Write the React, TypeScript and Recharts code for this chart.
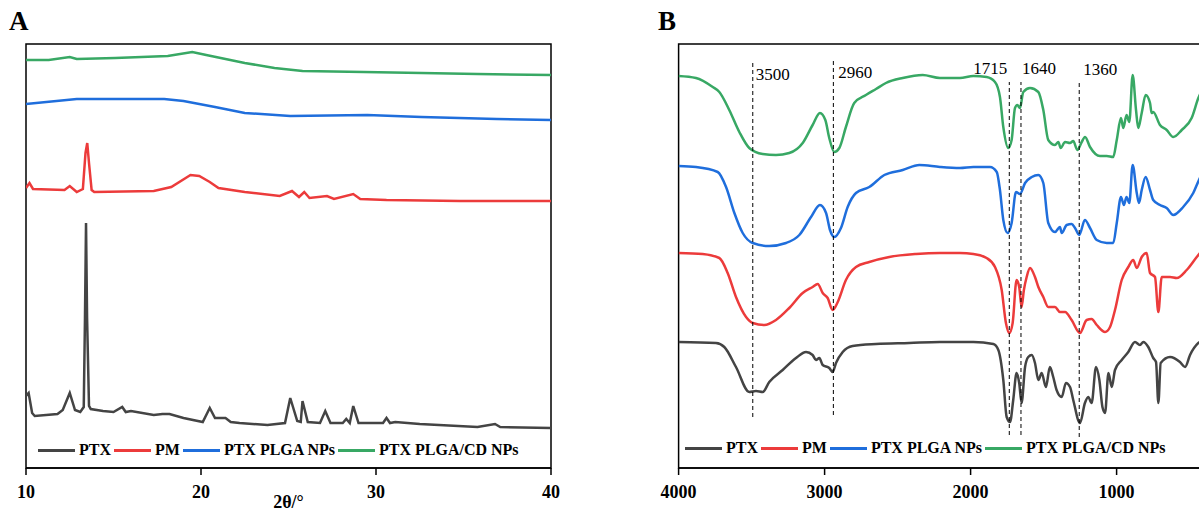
import React from 'react';
import { LineChart, Line, XAxis, YAxis, ReferenceArea, ReferenceLine, ReferenceDot, Legend } from 'recharts';

const FONT = "'Liberation Serif', 'Times New Roman', Times, serif";

// ---------- Panel A: XRD (2θ, relative intensity) ----------
const xrdTicks = [10, 20, 30, 40];

const xrdPTX: [number, number][] = [
  [10.0, 72], [10.15, 75], [10.35, 55], [10.5, 52], [11.8, 54], [12.1, 58], [12.5, 75], [12.8, 58],
  [13.1, 56], [13.3, 61], [13.37, 150], [13.43, 245], [13.49, 150], [13.6, 62], [13.7, 59], [14.4, 57],
  [15.0, 56], [15.5, 61], [15.7, 56], [16.0, 57], [17.3, 53], [17.8, 54], [18.2, 54], [19.0, 50],
  [20.1, 46], [20.5, 60], [20.8, 50], [21.4, 50], [21.7, 46], [22.2, 45], [23.8, 43], [24.8, 45],
  [25.1, 70], [25.5, 47], [25.7, 46], [25.8, 67], [26.1, 46], [26.8, 45], [27.1, 57], [27.4, 45],
  [28.1, 45], [28.3, 49], [28.5, 45], [28.7, 62], [29.0, 45], [30.4, 45], [30.6, 50], [30.8, 45],
  [31.1, 46], [32.5, 44], [33.6, 43], [35.8, 41], [36.8, 44], [37.1, 41], [40.0, 40],
];

const xrdPM: [number, number][] = [
  [10.0, 280], [10.2, 285], [10.4, 279], [12.2, 278], [12.5, 282], [12.9, 276], [13.25, 279],
  [13.4, 315], [13.5, 325], [13.6, 305], [13.75, 278], [13.9, 276], [17.3, 277], [18.3, 281],
  [19.4, 293], [19.9, 292], [20.5, 286], [21.0, 280], [22.5, 276], [24.5, 272], [25.2, 277],
  [25.6, 271], [25.9, 276], [26.2, 270], [27.2, 272], [27.6, 269], [28.7, 274], [29.1, 269],
  [30.6, 268], [34.8, 267], [40.0, 267],
];

const xrdPLGA: [number, number][] = [
  [10.0, 364], [12.9, 369], [14.2, 369], [17.9, 369], [19.0, 367], [20.8, 361], [22.5, 355],
  [25.1, 352], [29.5, 353], [32.6, 351], [36.9, 349], [40.0, 348],
];

const xrdPLGACD: [number, number][] = [
  [10.0, 408], [11.3, 408], [12.5, 411], [12.9, 409], [15.1, 410], [18.1, 412], [19.5, 416],
  [20.3, 413], [22.5, 405], [24.2, 400], [25.8, 397], [29.3, 396], [32.6, 395], [35.8, 394], [40.0, 393],
];

// ---------- Panel B: FTIR (wavenumber cm-1, transmittance offset) ----------
const ftirTicks = [4000, 3000, 2000, 1000];

const ftirPTX: [number, number][] = [
  [4000, 126], [3744, 125], [3687, 121], [3607, 101], [3516, 76], [3470, 77], [3424, 76], [3379, 86],
  [3287, 98], [3196, 110], [3127, 116], [3082, 113], [3059, 108], [3036, 110], [3013, 103], [2968, 100],
  [2945, 96], [2922, 105], [2876, 116], [2808, 122], [2648, 124], [2420, 125], [2210, 126], [1981, 126],
  [1844, 124], [1810, 118], [1776, 88], [1753, 51], [1730, 46], [1708, 68], [1685, 95], [1667, 85],
  [1651, 65], [1627, 101], [1605, 111], [1581, 113], [1559, 105], [1536, 88], [1513, 95], [1484, 81],
  [1457, 101], [1434, 91], [1411, 78], [1376, 71], [1347, 85], [1319, 81], [1297, 68], [1251, 45],
  [1217, 65], [1194, 71], [1171, 65], [1141, 101], [1118, 88], [1097, 61], [1079, 55], [1056, 95],
  [1033, 81], [1011, 98], [965, 108], [920, 116], [874, 126], [840, 123], [817, 126], [783, 121],
  [749, 110], [730, 106], [714, 65], [698, 105], [634, 111], [566, 106], [531, 101], [497, 113],
  [440, 125], [400, 128],
];

const ftirPM: [number, number][] = [
  [4000, 215], [3835, 214], [3721, 210], [3664, 195], [3607, 171], [3538, 151], [3492, 145], [3413, 143],
  [3333, 148], [3242, 160], [3150, 175], [3082, 181], [3047, 184], [3013, 175], [2979, 170], [2945, 158],
  [2910, 166], [2854, 188], [2785, 201], [2694, 206], [2557, 211], [2374, 214], [2210, 215], [2073, 215],
  [1981, 214], [1890, 210], [1833, 201], [1787, 178], [1758, 145], [1735, 135], [1712, 145], [1685, 188],
  [1667, 181], [1651, 161], [1635, 178], [1616, 191], [1593, 200], [1559, 191], [1536, 181], [1502, 171],
  [1468, 161], [1422, 161], [1388, 156], [1353, 156], [1308, 148], [1251, 135], [1205, 148], [1171, 149],
  [1136, 143], [1079, 136], [1045, 141], [1011, 158], [965, 188], [920, 201], [886, 208], [862, 200],
  [828, 211], [794, 215], [771, 195], [737, 191], [714, 156], [691, 191], [634, 191], [588, 190],
  [520, 198], [451, 211], [400, 220],
];

const ftirPLGA: [number, number][] = [
  [4000, 302], [3881, 301], [3732, 296], [3675, 281], [3618, 255], [3561, 235], [3492, 225], [3379, 222],
  [3264, 225], [3173, 233], [3093, 251], [3032, 263], [2990, 255], [2963, 238], [2934, 231], [2888, 240],
  [2842, 261], [2785, 275], [2694, 281], [2591, 293], [2465, 298], [2351, 303], [2210, 301], [2073, 300],
  [1981, 301], [1867, 301], [1821, 296], [1799, 278], [1776, 248], [1746, 235], [1719, 245], [1689, 276],
  [1662, 274], [1627, 285], [1581, 291], [1536, 293], [1502, 285], [1468, 245], [1422, 236], [1388, 241],
  [1376, 235], [1342, 243], [1308, 244], [1285, 240], [1256, 233], [1217, 248], [1182, 240], [1136, 228],
  [1068, 225], [1023, 225], [999, 245], [970, 271], [950, 263], [932, 271], [913, 265], [890, 303],
  [862, 275], [847, 265], [828, 278], [801, 291], [771, 278], [749, 268], [703, 263], [657, 260],
  [612, 253], [544, 261], [475, 275], [436, 288], [400, 298],
];

const ftirPLGACD: [number, number][] = [
  [4000, 392], [3881, 390], [3766, 381], [3721, 376], [3653, 358], [3584, 336], [3516, 320], [3424, 314],
  [3333, 313], [3242, 315], [3150, 325], [3082, 343], [3032, 355], [2995, 348], [2968, 330], [2934, 316],
  [2899, 320], [2854, 341], [2797, 365], [2717, 373], [2648, 379], [2580, 385], [2465, 390], [2328, 393],
  [2210, 390], [2073, 390], [1981, 392], [1890, 391], [1833, 386], [1799, 371], [1776, 341], [1742, 320],
  [1719, 328], [1696, 360], [1680, 363], [1662, 360], [1639, 376], [1593, 380], [1536, 376], [1502, 358],
  [1468, 328], [1422, 323], [1399, 326], [1383, 320], [1353, 326], [1319, 325], [1297, 327], [1269, 318],
  [1239, 326], [1216, 331], [1182, 321], [1114, 312], [1068, 312], [1023, 311], [999, 328], [970, 350],
  [954, 340], [932, 353], [913, 346], [890, 393], [867, 358], [852, 340], [828, 355], [801, 373],
  [771, 365], [760, 355], [749, 356], [703, 343], [657, 338], [612, 331], [554, 338], [486, 350],
  [440, 370], [400, 382],
];

// Marked bands: position of the dashed guide and its printed label
const bandPositions = [3492, 2940, 1735, 1655, 1256];
const bandLabels = ['3500', '2960', '1715', '1640', '1360'];

const seriesNames = ['PTX', 'PM', 'PTX PLGA NPs', 'PTX PLGA/CD NPs'];
const seriesColors = ['#444444', '#ec3b3b', '#1f6edc', '#38a864'];

// ---------- layout / styling ----------
const W = 600;
const H = 513;
const Y_MAX = 424;
const bandStyle = [
  { top: 405, bottom: 51, labelY: 388, dx: 3, anchor: 'start' },
  { top: 407, bottom: 53, labelY: 390, dx: 5, anchor: 'start' },
  { top: 386, bottom: 33, labelY: 394, dx: -2, anchor: 'end' },
  { top: 386, bottom: 33, labelY: 394, dx: 1, anchor: 'start' },
  { top: 385, bottom: 31, labelY: 393, dx: 4, anchor: 'start' },
];

const toPts = (arr: [number, number][]) => arr.map(([x, y]) => ({ x, y }));

const renderLegend = () => (
  <div
    style={{
      display: 'flex',
      alignItems: 'center',
      fontFamily: FONT,
      fontWeight: 'bold',
      fontSize: 16,
      color: '#000',
      whiteSpace: 'nowrap',
      lineHeight: '18px',
    }}
  >
    {seriesNames.map((n, i) => (
      <React.Fragment key={n}>
        <span
          style={{
            display: 'inline-block',
            width: 37,
            height: 3,
            background: seriesColors[i],
            marginLeft: i ? 3 : 0,
            marginRight: 4,
          }}
        />
        <span>{n}</span>
      </React.Fragment>
    ))}
  </div>
);

const tickStyle = { fontSize: 18, fontWeight: 'bold', fill: '#000', fontFamily: FONT };
const axisLineStyle = { stroke: '#000', strokeWidth: 1.5 };

export default function App() {
  const xrdSeries = [xrdPTX, xrdPM, xrdPLGA, xrdPLGACD];
  const ftirSeries = [ftirPTX, ftirPM, ftirPLGA, ftirPLGACD];
  return (
    <div
      style={{
        position: 'absolute',
        left: 0,
        top: 0,
        width: 1199,
        height: 513,
        overflow: 'hidden',
        background: '#fff',
        fontFamily: FONT,
      }}
    >
      <div style={{ position: 'absolute', left: 9, top: 6, fontSize: 27, fontWeight: 'bold', lineHeight: '30px' }}>A</div>
      <div style={{ position: 'absolute', left: 658, top: 6, fontSize: 27, fontWeight: 'bold', lineHeight: '30px' }}>B</div>

      {/* Panel A */}
      <div style={{ position: 'absolute', left: 0, top: 0 }}>
        <LineChart width={W} height={H} margin={{ top: 44, left: 26, right: 49, bottom: 15 }}>
          <XAxis
            type="number"
            dataKey="x"
            domain={[10, 40]}
            ticks={xrdTicks}
            allowDataOverflow
            height={30}
            tickSize={7}
            tickMargin={10}
            tick={tickStyle}
            tickLine={axisLineStyle}
            axisLine={axisLineStyle}
            label={{ value: '2θ/°', position: 'bottom', offset: -3, fontSize: 18, fontWeight: 'bold', fill: '#000', fontFamily: FONT }}
          />
          <YAxis type="number" hide domain={[0, Y_MAX]} allowDataOverflow />
          <ReferenceArea x1={10} x2={40} y1={0} y2={Y_MAX} fill="none" stroke="#000" strokeWidth={1.5} ifOverflow="visible" />
          {xrdSeries.map((s, i) => (
            <Line
              key={seriesNames[i]}
              data={toPts(s)}
              dataKey="y"
              name={seriesNames[i]}
              type="linear"
              stroke={seriesColors[i]}
              strokeWidth={2.5}
              dot={false}
              isAnimationActive={false}
            />
          ))}
          <Legend
            content={renderLegend}
            layout="horizontal"
            verticalAlign="middle"
            align="center"
            wrapperStyle={{ left: 38, top: 441, width: 'auto' }}
          />
        </LineChart>
      </div>

      {/* Panel B */}
      <div style={{ position: 'absolute', left: 640, top: 0 }}>
        <LineChart width={W} height={H} margin={{ top: 44, left: 38.6, right: 35.8, bottom: 15 }}>
          <XAxis
            type="number"
            dataKey="x"
            domain={[400, 4000]}
            reversed
            ticks={ftirTicks}
            allowDataOverflow
            height={30}
            tickSize={7}
            tickMargin={10}
            tick={tickStyle}
            tickLine={axisLineStyle}
            axisLine={axisLineStyle}
          />
          <YAxis type="number" hide domain={[0, Y_MAX]} allowDataOverflow />
          <ReferenceArea x1={4000} x2={400} y1={0} y2={Y_MAX} fill="none" stroke="#000" strokeWidth={1.5} ifOverflow="visible" />
          {ftirSeries.map((s, i) => (
            <Line
              key={seriesNames[i]}
              data={toPts(s)}
              dataKey="y"
              name={seriesNames[i]}
              type="monotone"
              stroke={seriesColors[i]}
              strokeWidth={2.5}
              dot={false}
              isAnimationActive={false}
            />
          ))}
          {bandPositions.map((wn, i) => (
            <ReferenceLine
              key={'l' + i}
              segment={[{ x: wn, y: bandStyle[i].bottom }, { x: wn, y: bandStyle[i].top }]}
              stroke="#000"
              strokeWidth={1}
              strokeDasharray="4 3"
              ifOverflow="visible"
            />
          ))}
          {bandPositions.map((wn, i) => (
            <ReferenceDot
              key={'d' + i}
              x={wn}
              y={bandStyle[i].labelY}
              r={0}
              fill="none"
              stroke="none"
              ifOverflow="visible"
              label={(p: any) => (
                <text
                  x={p.viewBox.x + bandStyle[i].dx}
                  y={p.viewBox.y}
                  textAnchor={bandStyle[i].anchor}
                  fontFamily={FONT}
                  fontSize={17}
                  fill="#000"
                >
                  {bandLabels[i]}
                </text>
              )}
            />
          ))}
          <Legend
            content={renderLegend}
            layout="horizontal"
            verticalAlign="middle"
            align="center"
            wrapperStyle={{ left: 45, top: 439, width: 'auto' }}
          />
        </LineChart>
      </div>
    </div>
  );
}
